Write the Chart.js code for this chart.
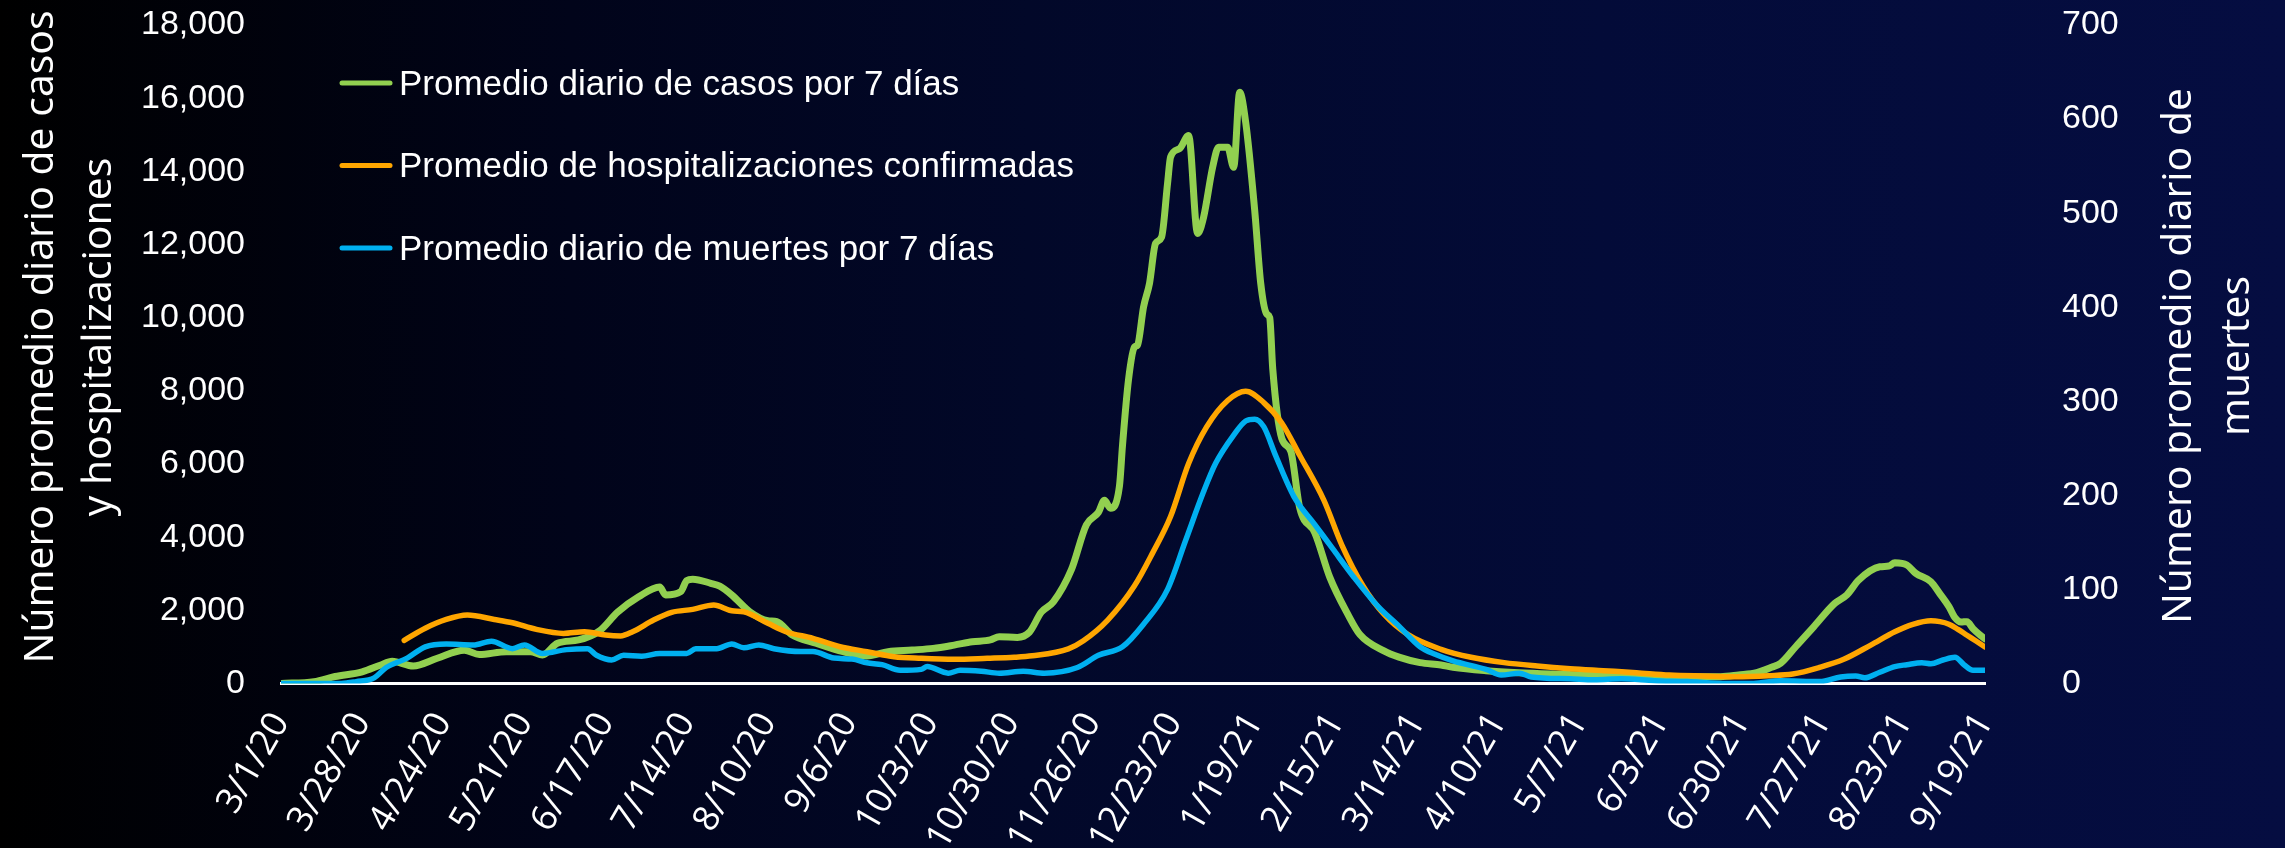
<!DOCTYPE html>
<html lang="es">
<head>
<meta charset="utf-8">
<title>Promedios diarios: casos, hospitalizaciones y muertes</title>
<script src="https://cdn.jsdelivr.net/npm/chart.js@4.4.1/dist/chart.umd.min.js"></script>
<style>
  html, body { margin: 0; padding: 0; }
  body {
    width: 2285px;
    height: 848px;
    overflow: hidden;
    background: linear-gradient(to right, #000000 0%, #01041a 25%, #020829 45%, #030b38 70%, #050d41 100%);
  }
  canvas { display: block; }
</style>
</head>
<body>
<canvas id="chart" width="2285" height="848"></canvas>
<script>
// x values are days counted from 3/1/20
const tickLabels = [
  "3/1/20", "3/28/20", "4/24/20", "5/21/20", "6/17/20", "7/14/20", "8/10/20",
  "9/6/20", "10/3/20", "10/30/20", "11/26/20", "12/23/20", "1/19/21", "2/15/21",
  "3/14/21", "4/10/21", "5/7/21", "6/3/21", "6/30/21", "7/27/21", "8/23/21", "9/19/21",
];

const seriesLabels = [
  "Promedio diario de casos por 7 días",
  "Promedio de hospitalizaciones confirmadas",
  "Promedio diario de muertes por 7 días",
];

const casesDays = [
  0, 11, 18, 27, 33, 37, 44, 52, 61, 66,
  75, 83, 87, 92, 99, 106, 112, 119, 126, 128,
  133, 135, 137, 143, 146, 150, 156, 162, 165, 170,
  178, 187, 195, 202, 210, 217, 224, 230, 236, 239,
  245, 249, 253, 257, 263, 268, 272, 274, 276, 279,
  280, 282, 284, 285, 287, 289, 291, 293, 295, 296,
  299, 302, 305, 307, 310, 312, 315, 317, 319, 321,
  324, 326, 328, 329, 330, 333, 336, 339, 344, 349,
  355, 359, 367, 372, 379, 386, 390, 401, 412, 423,
  434, 446, 457, 468, 479, 485, 491, 496, 499, 504,
  510, 517, 521, 525, 532, 535, 537, 541, 544, 549,
  552, 555, 557, 559, 561, 563, 565, 567,
];
const casesValues = [
  0, 50, 190, 320, 500, 610, 480, 690, 910, 790,
  870, 870, 780, 1100, 1190, 1440, 1950, 2370, 2640, 2420,
  2510, 2810, 2850, 2740, 2660, 2420, 1960, 1715, 1690, 1330,
  1100, 870, 750, 870, 915, 960, 1050, 1140, 1190, 1280,
  1260, 1400, 1950, 2230, 3110, 4340, 4680, 5010, 4790, 5400,
  6500, 8300, 9200, 9250, 10290, 10940, 12030, 12200, 13670, 14390,
  14620, 14980, 12300, 12750, 14110, 14660, 14660, 14110, 16160, 15340,
  12930, 10940, 10100, 10000, 8600, 6700, 6350, 4790, 4120, 2900,
  1890, 1340, 890, 720, 570, 505, 442, 350, 295, 259,
  232, 232, 205, 186, 186, 232, 295, 442, 552, 1005,
  1550, 2190, 2420, 2830, 3190, 3210, 3300, 3240, 3010, 2780,
  2450, 2100, 1800, 1680, 1690, 1500, 1350, 1220,
];

const hospDays = [
  41, 48, 55, 62, 71, 77, 85, 94, 101, 108,
  113, 117, 124, 130, 137, 144, 150, 154, 162, 168,
  177, 186, 195, 204, 213, 224, 235, 244, 250, 262,
  267, 275, 284, 290, 296, 302, 308, 315, 321, 327,
  333, 339, 347, 353, 360, 367, 375, 386, 396, 407,
  418, 429, 440, 451, 462, 473, 484, 495, 503, 512,
  520, 529, 537, 543, 549, 552, 555, 558, 561, 564,
  567,
];
const hospValues = [
  1180, 1510, 1750, 1870, 1750, 1660, 1480, 1370, 1415, 1325,
  1300, 1415, 1734, 1944, 2026, 2144, 1988, 1961, 1644, 1415,
  1234, 1005, 869, 732, 688, 661, 688, 716, 757, 948,
  1169, 1726, 2671, 3564, 4564, 6011, 7013, 7734, 7988, 7679,
  7122, 6232, 5011, 3782, 2671, 1893, 1335, 934, 716, 570,
  478, 405, 350, 295, 232, 205, 186, 214, 259, 442,
  661, 1051, 1415, 1617, 1715, 1690, 1620, 1480, 1320, 1160,
  1000,
];

const deathDays = [
  0, 20, 25, 31, 35, 42, 48, 55, 64, 70,
  77, 81, 87, 95, 102, 105, 110, 114, 120, 126,
  135, 138, 145, 150, 154, 159, 164, 173, 177, 184,
  190, 195, 200, 206, 213, 215, 222, 226, 233, 239,
  247, 254, 265, 272, 280, 287, 295, 301, 307, 311,
  317, 321, 324, 327, 331, 337, 344, 350, 357, 365,
  372, 379, 384, 390, 401, 406, 412, 416, 429, 437,
  446, 457, 468, 481, 490, 499, 512, 519, 524, 527,
  532, 537, 541, 546, 549, 553, 557, 560, 563, 567,
];
const deathValues = [
  0, 0, 2, 6, 17, 27, 39, 42, 41, 45,
  37, 41, 32, 36, 37, 30, 25, 30, 29, 32,
  32, 37, 37, 42, 38, 41, 37, 34, 34, 27,
  26, 22, 20, 14, 15, 18, 11, 14, 13, 11,
  13, 11, 17, 30, 39, 63, 100, 152, 204, 234,
  264, 279, 281, 273, 242, 199, 169, 143, 113, 82,
  61, 39, 31, 24, 15, 9, 11, 7, 5, 4,
  5, 3, 2, 0, 0, 3, 2, 7, 8, 6,
  12, 18, 20, 22, 21, 25, 28, 20, 14, 14,
];

const leftTitle = ["Número promedio diario de casos", "y hospitalizaciones"];
const rightTitle = ["Número promedio diario de", "muertes"];

const tickFont = '"Liberation Sans", Arial, sans-serif';
const uiFont = '"Open Sans", "Noto Sans", sans-serif';

const toPoints = (days, values) => days.map((d, i) => ({ x: d, y: values[i] }));

// fixed box widths; the big tick padding must not push the plot area down
const fixWidth = (width) => (scale) => {
  scale.width = width;
  scale.paddingTop = 0;
  scale.paddingBottom = 0;
};

// axis titles read bottom-to-top on both sides, and the legend sits inside the plot
const slideDecor = {
  id: "slideDecor",
  afterDraw(chart) {
    const ctx = chart.ctx;
    ctx.save();
    ctx.fillStyle = "#ffffff";
    ctx.font = "41px " + uiFont;
    ctx.textAlign = "center";
    ctx.textBaseline = "middle";
    const drawVertical = (lines, xs, yc) => {
      lines.forEach((text, i) => {
        ctx.save();
        ctx.translate(xs[i], yc);
        ctx.rotate(-Math.PI / 2);
        ctx.fillText(text, 0, 0);
        ctx.restore();
      });
    };
    drawVertical(leftTitle, [41, 99], 337);
    drawVertical(rightTitle, [2179, 2237], 356);

    ctx.font = "35px " + tickFont;
    ctx.textAlign = "left";
    chart.data.datasets.forEach((ds, i) => {
      const y = 83 + i * 82.5;
      ctx.strokeStyle = ds.borderColor;
      ctx.lineWidth = 5;
      ctx.lineCap = "round";
      ctx.beginPath();
      ctx.moveTo(342, y);
      ctx.lineTo(390, y);
      ctx.stroke();
      ctx.fillText(ds.label, 399, y + 2);
    });
    ctx.restore();
  },
};

new Chart(document.getElementById("chart"), {
  type: "line",
  data: {
    datasets: [
      {
        label: seriesLabels[0],
        data: toPoints(casesDays, casesValues),
        borderColor: "#92d050",
        borderWidth: 7,
        yAxisID: "y",
        order: 3,
      },
      {
        label: seriesLabels[1],
        data: toPoints(hospDays, hospValues),
        borderColor: "#ffa600",
        borderWidth: 5.5,
        yAxisID: "y",
        order: 2,
      },
      {
        label: seriesLabels[2],
        data: toPoints(deathDays, deathValues),
        borderColor: "#00b0f0",
        borderWidth: 5.5,
        yAxisID: "y1",
        order: 1,
      },
    ],
  },
  options: {
    responsive: false,
    animation: false,
    events: [],
    layout: { padding: { top: 25, right: 0, bottom: 0, left: 0 } },
    elements: {
      point: { radius: 0 },
      line: {
        cubicInterpolationMode: "monotone",
        borderCapStyle: "round",
        borderJoinStyle: "round",
        fill: false,
      },
    },
    plugins: {
      legend: { display: false },
      tooltip: { enabled: false },
    },
    scales: {
      x: {
        type: "linear",
        min: 0,
        max: 567,
        grid: { display: false, drawTicks: false },
        border: { color: "#ffffff", width: 3 },
        ticks: {
          stepSize: 27,
          autoSkip: false,
          maxRotation: 60,
          minRotation: 60,
          padding: 22,
          color: "#ffffff",
          font: { family: uiFont, size: 36 },
          callback: (value) => tickLabels[Math.round(value / 27)],
        },
        afterFit: (scale) => {
          scale.height = 164.5;
        },
      },
      y: {
        position: "left",
        min: 0,
        max: 18000,
        grid: { display: false, drawTicks: false },
        border: { display: false },
        ticks: {
          stepSize: 2000,
          padding: 36,
          color: "#ffffff",
          font: { family: tickFont, size: 34 },
          callback: (value) => value.toLocaleString("en-US"),
        },
        afterFit: fixWidth(281),
      },
      y1: {
        position: "right",
        min: 0,
        max: 700,
        grid: { display: false, drawTicks: false },
        border: { display: false },
        ticks: {
          stepSize: 100,
          padding: 77,
          color: "#ffffff",
          font: { family: tickFont, size: 34 },
        },
        afterFit: fixWidth(300),
      },
    },
  },
  plugins: [slideDecor],
});
</script>
</body>
</html>
